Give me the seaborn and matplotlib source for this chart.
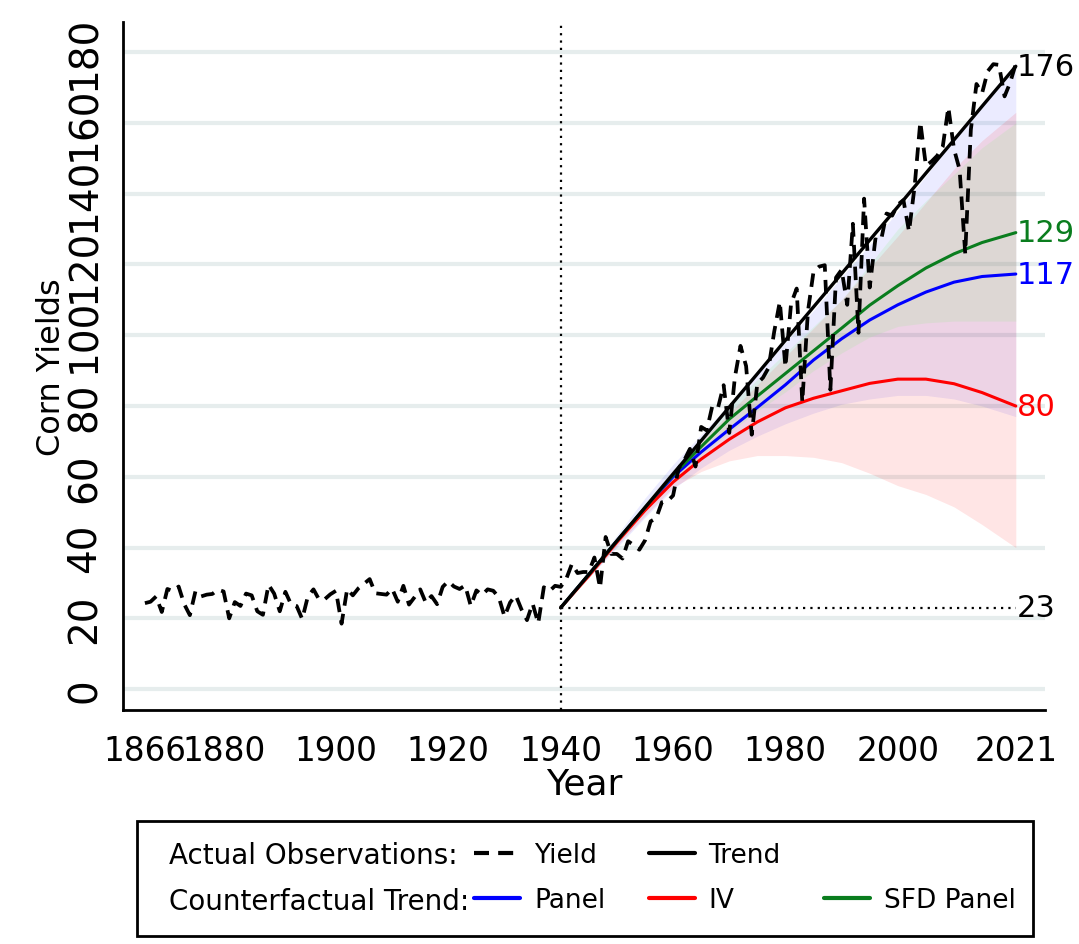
import matplotlib
matplotlib.use("Agg")
import matplotlib.pyplot as plt
import seaborn as sns
import pandas as pd
from matplotlib.lines import Line2D
from matplotlib.patches import Rectangle

sns.set_style("white")
plt.rcParams["font.family"] = ["DejaVu Sans"]
plt.rcParams["text.color"] = "black"
plt.rcParams["axes.labelcolor"] = "black"
plt.rcParams["xtick.color"] = "black"
plt.rcParams["ytick.color"] = "black"

# observed corn yields, 1866-2021 (bu/acre)
years = list(range(1866, 2022))
yield_obs = [
    24.3, 24.7, 26.2, 21.8, 28.3, 27.7, 29.0, 24.0, 20.9, 27.7,
    26.2, 26.7, 26.9, 28.1, 27.6, 20.0, 24.6, 23.5, 27.0, 26.5,
    22.0, 21.0, 29.5, 27.0, 22.0, 27.5, 24.0, 23.5, 19.8, 26.2,
    28.2, 25.3, 25.4, 26.8, 27.8, 18.5, 28.3, 26.5, 28.5, 29.8,
    31.1, 27.1, 26.9, 26.7, 28.4, 24.7, 29.2, 23.9, 26.0, 28.2,
    24.4, 26.3, 24.0, 28.9, 30.5, 29.0, 28.3, 29.3, 23.5, 27.9,
    26.6, 28.2, 27.8, 25.9, 20.5, 24.5, 26.5, 22.6, 19.5, 24.2,
    18.6, 28.8, 27.7, 29.2, 28.9, 31.2, 35.4, 32.8, 33.1, 33.1,
    37.2, 28.6, 43.0, 38.2, 38.2, 36.9, 41.8, 40.7, 39.4, 42.0,
    47.4, 48.3, 52.8, 53.1, 54.7, 62.4, 64.7, 67.9, 62.9, 74.1,
    73.1, 80.1, 79.5, 85.9, 72.4, 88.1, 97.0, 91.3, 71.9, 86.4,
    88.0, 90.8, 101.0, 109.5, 91.0, 108.9, 113.2, 81.1, 106.7, 118.0,
    119.4, 119.8, 84.6, 116.3, 118.5, 108.6, 131.5, 100.7, 138.6, 113.5,
    127.1, 126.7, 134.4, 133.8, 136.9, 138.2, 129.3, 142.2, 160.3, 147.9,
    149.1, 150.7, 153.3, 164.4, 152.6, 146.8, 123.1, 158.1, 171.0, 168.4,
    174.6, 176.6, 176.4, 167.5, 171.4, 176.7,
]

# trend and counterfactual trends from 1940 on
cf_years = [1940, 1945, 1950, 1955, 1960, 1965, 1970, 1975, 1980,
            1985, 1990, 1995, 2000, 2005, 2010, 2015, 2021]
trend = [23, 32.4, 41.9, 51.3, 60.8, 70.2, 79.7, 89.1, 98.6,
         108.0, 117.4, 126.9, 136.3, 145.8, 155.2, 164.7, 176]

panel = [23, 32.4, 41.8, 51.2, 60.0, 67.0, 73.4, 79.6, 86.0,
         93.0, 99.0, 104.3, 108.6, 112.2, 115.0, 116.6, 117.3]
panel_lo = [23, 31.5, 40.0, 48.5, 56.5, 62.5, 67.5, 71.5, 75.0,
            78.0, 80.5, 82.0, 83.0, 83.0, 82.0, 80.0, 77.0]
panel_hi = [23, 33.0, 43.5, 54.0, 63.5, 72.0, 80.5, 89.0, 98.0,
            107.0, 116.5, 125.5, 135.0, 145.0, 155.5, 165.5, 177.0]

iv = [23, 32.0, 41.5, 50.5, 58.5, 65.0, 70.6, 75.5, 79.5,
      82.2, 84.3, 86.4, 87.6, 87.6, 86.3, 83.8, 80.0]
iv_lo = [23, 31.5, 40.5, 49.0, 57.0, 61.5, 64.5, 66.0, 66.0,
         65.5, 64.0, 61.0, 57.5, 55.0, 51.5, 46.5, 40.0]
iv_hi = [23, 32.5, 42.5, 52.5, 62.0, 70.0, 78.0, 86.0, 94.0,
         102.0, 110.0, 119.0, 128.0, 137.5, 147.0, 155.0, 163.0]

sfd = [23, 32.4, 41.9, 51.3, 60.5, 68.5, 76.3, 82.8, 89.2,
       95.6, 102.0, 108.5, 114.0, 119.0, 123.0, 126.2, 129.0]
sfd_lo = [23, 32.0, 41.5, 50.5, 59.0, 66.0, 72.5, 78.5, 84.0,
          90.0, 95.0, 99.5, 102.5, 103.5, 104.0, 104.0, 104.0]
sfd_hi = [23, 33.0, 42.5, 52.5, 62.0, 71.0, 80.0, 87.5, 95.0,
          102.5, 110.0, 120.0, 130.0, 138.0, 145.5, 153.0, 160.0]

xticks = [1866, 1880, 1900, 1920, 1940, 1960, 1980, 2000, 2021]
yticks = [0, 20, 40, 60, 80, 100, 120, 140, 160, 180]

obs = pd.DataFrame({"year": years, "yield": yield_obs})
cf = pd.DataFrame({"year": cf_years, "trend": trend, "panel": panel,
                   "iv": iv, "sfd": sfd})

GREEN = "#0a7d1e"

fig = plt.figure(figsize=(10.79, 9.45), dpi=100)
ax = fig.add_axes([0.1140, 0.2476, 0.8545, 0.7280])

# confidence bands
ax.fill_between(cf_years, panel_lo, panel_hi, color=(0, 0, 1), alpha=0.08, lw=0, zorder=1)
ax.fill_between(cf_years, iv_lo, iv_hi, color=(1, 0, 0), alpha=0.10, lw=0, zorder=1)
ax.fill_between(cf_years, sfd_lo, sfd_hi, color=(0.59, 0.92, 0.55), alpha=0.18, lw=0, zorder=1)

# reference lines
ax.axvline(1940, color="black", lw=1.6, linestyle=(0, (1, 2.3)), zorder=2)
ax.plot([cf_years[0], cf_years[-1]], [trend[0], trend[0]], color="black",
        lw=1.6, linestyle=(0, (1, 2.3)), zorder=2)

sns.lineplot(data=cf, x="year", y="panel", ax=ax, color="blue", lw=2.2, label="Panel", zorder=3)
sns.lineplot(data=cf, x="year", y="iv", ax=ax, color="red", lw=2.2, label="IV", zorder=3)
sns.lineplot(data=cf, x="year", y="sfd", ax=ax, color=GREEN, lw=2.2, label="SFD Panel", zorder=3)
sns.lineplot(data=cf, x="year", y="trend", ax=ax, color="black", lw=2.4, label="Trend", zorder=4)
sns.lineplot(data=obs, x="year", y="yield", ax=ax, color="black", lw=2.7,
             linestyle=(0, (3.6, 2.2)), label="Yield", zorder=5)

# end labels
for val, col in [(trend[-1], "black"), (sfd[-1], GREEN), (panel[-1], "blue"),
                 (iv[-1], "red"), (trend[0], "black")]:
    ax.text(cf_years[-1] + 0.15, val, f"{val:.0f}", color=col, fontsize=22,
            ha="left", va="center", clip_on=False)

ax.set_xlim(1862.1, 2026.2)
ax.set_ylim(-5.9, 188.5)
ax.set_xticks(xticks)
ax.set_yticks(yticks)
ax.yaxis.grid(True, color="#e6eded", lw=3)
ax.xaxis.grid(False)
ax.set_axisbelow(True)
for side in ["top", "right"]:
    ax.spines[side].set_visible(False)
for side in ["left", "bottom"]:
    ax.spines[side].set_color("black")
    ax.spines[side].set_linewidth(2)
ax.tick_params(axis="both", length=12, width=1.8, color="black", direction="out")
ax.tick_params(axis="x", labelsize=23.5, pad=5)
ax.tick_params(axis="y", labelsize=28, pad=2, labelrotation=90)
for lab in ax.get_yticklabels():
    lab.set_va("center")
ax.set_xlabel("Year", fontsize=26, labelpad=0)
ax.set_ylabel("Corn Yields", fontsize=23)
ax.yaxis.set_label_coords(-0.061, 0.5)

# legend
hd = {l.get_label(): l for l in ax.get_lines()}
ax.get_legend().remove()
blank = Line2D([], [], color="none")
handles = [hd["Yield"], hd["Panel"], hd["Trend"], hd["IV"], blank, hd["SFD Panel"]]
labels = ["Yield", "Panel", "Trend", "IV", "", "SFD Panel"]
leg = fig.legend(handles, labels, ncol=3, loc="center left",
                 bbox_to_anchor=(474 / 1079, 1 - 879 / 945), frameon=False,
                 fontsize=19, handlelength=1.74, handletextpad=0.53,
                 columnspacing=1.65, labelspacing=0.72, borderpad=0, borderaxespad=0)
for h in leg.legend_handles:
    h.set_linewidth(3)

fig.text(169 / 1079, 1 - 856 / 945, "Actual Observations:", fontsize=20, va="center", ha="left")
fig.text(169 / 1079, 1 - 902 / 945, "Counterfactual Trend:", fontsize=20, va="center", ha="left")
fig.add_artist(Rectangle((137 / 1079, 1 - 937 / 945), (1033 - 137) / 1079, (937 - 822) / 945,
                         transform=fig.transFigure, fill=False, ec="black", lw=2))

fig.savefig("out.png", dpi=100)
